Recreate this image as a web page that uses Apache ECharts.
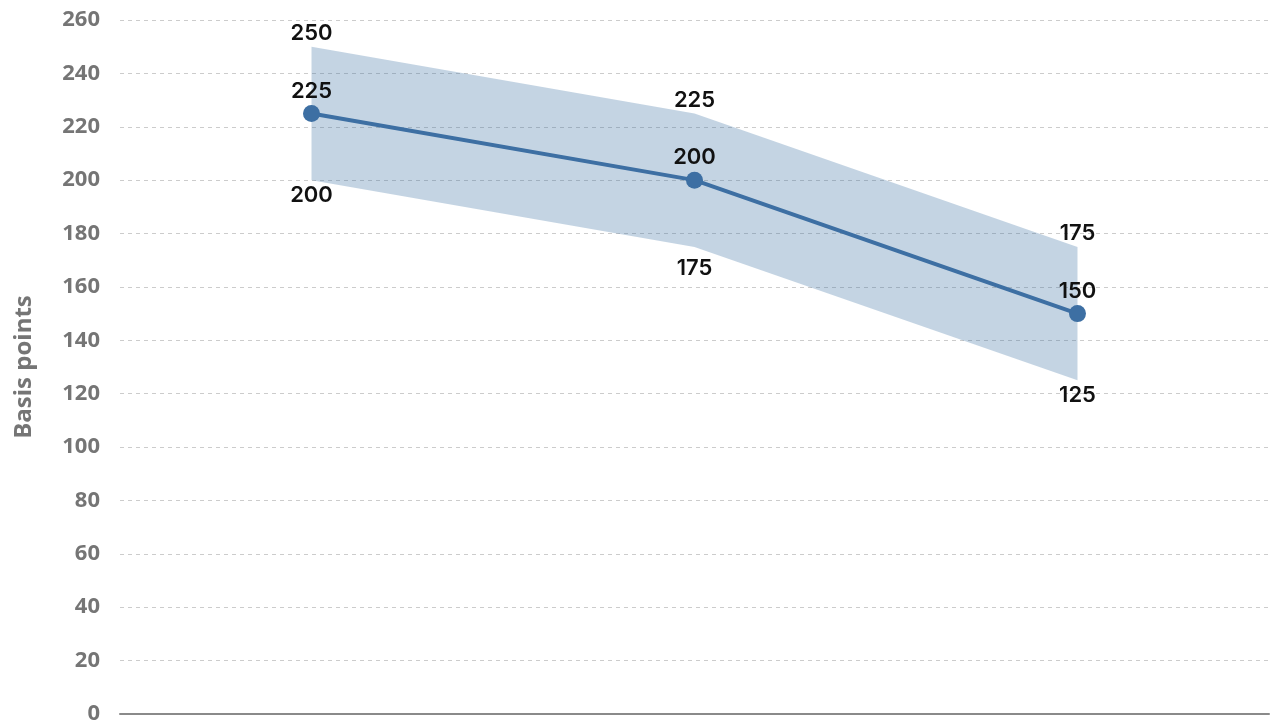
<!DOCTYPE html>
<html>
<head>
<meta charset="utf-8">
<script src="https://cdn.jsdelivr.net/npm/echarts@6/dist/echarts.min.js"></script>
<style>html,body{margin:0;padding:0;background:#fff}#c{width:1279px;height:722px}</style>
</head>
<body>
<div id="c"></div>
<script>
const categories = ['A', 'B', 'C'];
const central = [225, 200, 150];
const upper = [250, 225, 175];
const lower = [200, 175, 125];
const yTicks = [0, 20, 40, 60, 80, 100, 120, 140, 160, 180, 200, 220, 240, 260];

const bandWidth = upper.map((u, i) => u - lower[i]);
const lowerData = lower.map((v, i) => i === 1 ? { value: v, label: { offset: [0, 7] } } : v);
const FONT = '"Open Sans", sans-serif';
const LBL = { show: true, color: '#111', fontSize: 22, fontWeight: 600, fontFamily: 'Inter, "Open Sans", sans-serif' };
const chart = echarts.init(document.getElementById('c'));
chart.setOption({
  animation: false,
  grid: { left: 120, right: 10, top: 20, bottom: 8, outerBoundsMode: 'none', containLabel: false },
  xAxis: {
    type: 'category', data: categories, boundaryGap: true,
    axisLine: { show: true, lineStyle: { color: '#8a8a8a', width: 2 } },
    axisTick: { show: false }, axisLabel: { show: false }, splitLine: { show: false }
  },
  yAxis: {
    type: 'value', min: yTicks[0], max: yTicks[yTicks.length - 1], interval: 20,
    name: 'Basis points', nameLocation: 'middle', nameGap: 84, nameRotate: 90,
    nameTextStyle: { color: '#757575', fontSize: 24, fontWeight: 'bold', fontFamily: FONT },
    axisLine: { show: false }, axisTick: { show: false },
    axisLabel: { color: '#757575', fontSize: 22, fontWeight: 'bold', fontFamily: FONT, margin: 20 },
    splitLine: { show: true, lineStyle: { color: '#cccccc', type: [4, 4], width: 1 } }
  },
  series: [
    {
      name: 'lower', type: 'line', stack: 'band', data: lowerData,
      symbol: 'circle', symbolSize: 2, showSymbol: true,
      itemStyle: { color: 'rgba(0,0,0,0)', borderWidth: 0 }, lineStyle: { opacity: 0 }, z: 1,
      label: Object.assign({}, LBL, { position: 'bottom', distance: 3 })
    },
    {
      name: 'upper', type: 'line', stack: 'band', data: bandWidth,
      symbol: 'circle', symbolSize: 2, showSymbol: true,
      itemStyle: { color: 'rgba(0,0,0,0)', borderWidth: 0 }, lineStyle: { opacity: 0 }, z: 1,
      areaStyle: { color: '#3d6fa3', opacity: 0.3 },
      label: Object.assign({}, LBL, { position: 'top', distance: 1, formatter: p => upper[p.dataIndex] })
    },
    {
      name: 'central', type: 'line', data: central, z: 3,
      symbol: 'circle', symbolSize: 17,
      itemStyle: { color: '#3d6fa3' },
      lineStyle: { color: '#3d6fa3', width: 4 },
      label: Object.assign({}, LBL, { position: 'top', distance: 3 })
    }
  ]
});
</script>
</body>
</html>
